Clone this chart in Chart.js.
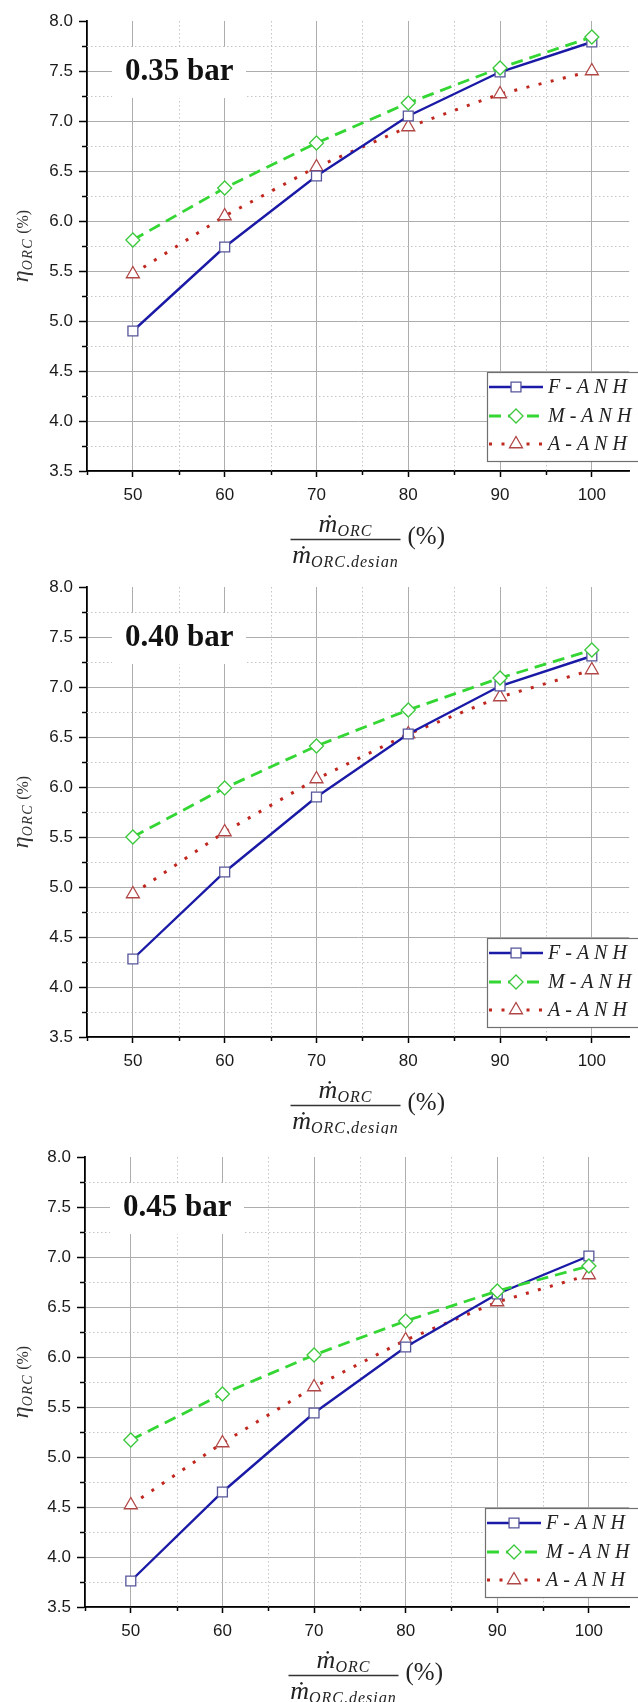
<!DOCTYPE html>
<html>
<head>
<meta charset="utf-8">
<script src="https://cdn.jsdelivr.net/npm/chart.js@4.4.1/dist/chart.umd.min.js"></script>
<style>
  html, body { margin:0; padding:0; background:#fff; }
  #wrap { position:relative; width:638px; height:1702px; overflow:hidden; }
  #wrap canvas { position:absolute; left:0; }
</style>
</head>
<body>
<div id="wrap">
  <canvas id="c1" width="638" height="567" style="top:0px"></canvas>
  <canvas id="c2" width="638" height="567" style="top:567px"></canvas>
  <canvas id="c3" width="638" height="568" style="top:1134px"></canvas>
</div>
<script>
// ===== DATA =====
const massFlow = [50, 60, 70, 80, 90, 100];
const xTicks = [50, 60, 70, 80, 90, 100];
const xMinorTicks = [45, 55, 65, 75, 85, 95];
const yTicks = [3.5, 4.0, 4.5, 5.0, 5.5, 6.0, 6.5, 7.0, 7.5, 8.0];
const yMinorTicks = [3.75, 4.25, 4.75, 5.25, 5.75, 6.25, 6.75, 7.25, 7.75];
const seriesNames = ['F-ANH', 'M-ANH', 'A-ANH'];
const pressureLabels = ['0.35 bar', '0.40 bar', '0.45 bar'];

// 0.35 bar
const fAnh35 = [4.90, 5.74, 6.45, 7.05, 7.49, 7.79];
const mAnh35 = [5.81, 6.33, 6.78, 7.18, 7.53, 7.84];
const aAnh35 = [5.47, 6.05, 6.54, 6.94, 7.27, 7.50];
// 0.40 bar
const fAnh40 = [4.28, 5.15, 5.90, 6.53, 7.01, 7.31];
const mAnh40 = [5.50, 5.99, 6.41, 6.77, 7.09, 7.37];
const aAnh40 = [4.93, 5.55, 6.08, 6.53, 6.90, 7.17];
// 0.45 bar
const fAnh45 = [3.76, 4.65, 5.44, 6.10, 6.63, 7.01];
const mAnh45 = [5.17, 5.63, 6.02, 6.36, 6.66, 6.91];
const aAnh45 = [4.52, 5.14, 5.70, 6.17, 6.55, 6.82];

// ===== STYLE =====
const seriesStyle = [
  { line:'#1a1aa6', marker:'#55559a', dash:[], width:2.4, point:'rect', radius:7, order:1 },
  { line:'#33d633', marker:'#3cc83c', dash:[12, 7], width:2.8, point:'rectRot', radius:7, order:0 },
  { line:'#c0281f', marker:'#b04646', dash:[3, 9.5], width:3, point:'triangle', radius:7.5, order:2 }
];

const SERIF = '"Liberation Serif", "DejaVu Serif", serif';
const SANS = '"Liberation Sans", Arial, sans-serif';

const panels = [
  { id:'c1', height:567, areaTop:21, axisLeft:87, xMax:104.07, label:pressureLabels[0], series:[fAnh35, mAnh35, aAnh35] },
  { id:'c2', height:567, areaTop:20, axisLeft:87, xMax:104.07, label:pressureLabels[1], series:[fAnh40, mAnh40, aAnh40] },
  { id:'c3', height:568, areaTop:23, axisLeft:85, xMax:104.4, label:pressureLabels[2], series:[fAnh45, mAnh45, aAnh45] }
];

// ===== HELPERS =====
function drawMarker(ctx, style, x, y, r){
  ctx.beginPath();
  if(style === 'rect'){
    const s = r * Math.SQRT1_2;
    ctx.rect(x - s, y - s, 2*s, 2*s);
  }else if(style === 'rectRot'){
    ctx.moveTo(x, y - r); ctx.lineTo(x + r, y); ctx.lineTo(x, y + r); ctx.lineTo(x - r, y);
    ctx.closePath();
  }else{
    ctx.moveTo(x, y - r);
    ctx.lineTo(x + r*0.866, y + r*0.5);
    ctx.lineTo(x - r*0.866, y + r*0.5);
    ctx.closePath();
  }
  ctx.fill();
  ctx.stroke();
}

// pieces: {t, font, dy, sp}
function richText(ctx, pieces, x, y, align){
  let total = 0;
  pieces.forEach(p => {
    ctx.font = p.font;
    ctx.letterSpacing = (p.sp || 0) + 'px';
    p.w = ctx.measureText(p.t).width;
    total += p.w;
  });
  let cx = align === 'center' ? x - total/2 : x;
  pieces.forEach(p => {
    ctx.font = p.font;
    ctx.letterSpacing = (p.sp || 0) + 'px';
    ctx.fillText(p.t, cx, y + (p.dy || 0));
    cx += p.w;
  });
  ctx.letterSpacing = '0px';
}

// ===== PLUGIN =====
const decorPlugin = {
  id:'decor',
  beforeDatasetsDraw(chart){
    const { ctx, chartArea:a, scales:{ x, y } } = chart;
    const label = chart.options.plugins.decor.label;
    ctx.save();

    // minor grid (dotted)
    ctx.strokeStyle = '#c4c4c4';
    ctx.lineWidth = 1;
    ctx.setLineDash([1.5, 2.5]);
    xMinorTicks.forEach(v => {
      if(v <= x.min) return;
      const px = Math.round(x.getPixelForValue(v)) + 0.5;
      ctx.beginPath(); ctx.moveTo(px, a.top); ctx.lineTo(px, a.bottom); ctx.stroke();
    });
    yMinorTicks.forEach(v => {
      const py = Math.round(y.getPixelForValue(v)) + 0.5;
      ctx.beginPath(); ctx.moveTo(a.left, py); ctx.lineTo(a.right, py); ctx.stroke();
    });
    ctx.setLineDash([]);

    // pressure label box
    const yb = y.getPixelForValue(7.5);
    ctx.fillStyle = '#fff';
    ctx.fillRect(a.left + 25, yb - 24, 134, 51);
    ctx.fillStyle = '#111';
    ctx.font = 'bold 31px ' + SERIF;
    ctx.textBaseline = 'middle';
    ctx.textAlign = 'left';
    ctx.fillText(label, a.left + 38, yb + 1);
    ctx.restore();
  },
  afterDraw(chart){
    const { ctx, chartArea:a, scales:{ x, y } } = chart;
    ctx.save();

    // minor ticks
    ctx.strokeStyle = '#000';
    ctx.lineWidth = 1.5;
    yMinorTicks.forEach(v => {
      const py = Math.round(y.getPixelForValue(v)) + 0.5;
      ctx.beginPath(); ctx.moveTo(a.left, py); ctx.lineTo(a.left - 5, py); ctx.stroke();
    });
    xMinorTicks.forEach(v => {
      const px = Math.round(x.getPixelForValue(v)) + 0.5;
      ctx.beginPath(); ctx.moveTo(px, a.bottom); ctx.lineTo(px, a.bottom + 4); ctx.stroke();
    });

    // legend
    const L = a.left + 400, T = a.bottom - 99, B = a.bottom - 10;
    ctx.fillStyle = '#fff';
    ctx.fillRect(L, T, 700, B - T);
    ctx.strokeStyle = '#707070';
    ctx.lineWidth = 1.2;
    ctx.strokeRect(L + 0.5, T + 0.5, 700, B - T);
    const rows = [a.bottom - 84, a.bottom - 55, a.bottom - 27];
    seriesNames.forEach((name, i) => {
      const s = seriesStyle[i];
      const ry = rows[i];
      ctx.strokeStyle = s.line;
      ctx.lineWidth = s.width;
      ctx.setLineDash(s.dash);
      ctx.beginPath(); ctx.moveTo(L + 2, ry); ctx.lineTo(L + 56, ry); ctx.stroke();
      ctx.setLineDash([]);
      ctx.fillStyle = '#fff';
      ctx.strokeStyle = s.marker;
      ctx.lineWidth = 1.3;
      drawMarker(ctx, s.point, L + 29, ry, s.radius);
      ctx.fillStyle = '#222';
      ctx.textBaseline = 'middle';
      ctx.textAlign = 'left';
      ctx.font = 'italic 20px ' + SERIF;
      ctx.letterSpacing = '5px';
      ctx.fillText(name, L + 61, ry + 1);
      ctx.letterSpacing = '0px';
    });

    // y title  eta_ORC (%)
    ctx.fillStyle = '#333';
    ctx.textAlign = 'left';
    ctx.textBaseline = 'alphabetic';
    ctx.save();
    ctx.translate(24, (a.top + a.bottom) / 2);
    ctx.rotate(-Math.PI / 2);
    richText(ctx, [
      { t:'η', font:'italic 24px ' + SERIF, dy:4 },
      { t:'ORC', font:'italic 14px ' + SERIF, dy:8, sp:1.5 },
      { t:' (%)', font:'16px ' + SERIF, dy:4 }
    ], 0, 0, 'center');
    ctx.restore();

    // x title  m_ORC / m_ORC,design (%)
    const cx = a.left + 258.5;
    ctx.fillStyle = '#222';
    richText(ctx, [
      { t:'ṁ', font:'italic 26px ' + SERIF },
      { t:'ORC', font:'italic 16px ' + SERIF, dy:4, sp:1 }
    ], cx, a.bottom + 61, 'center');
    ctx.strokeStyle = '#333';
    ctx.lineWidth = 1.3;
    ctx.beginPath(); ctx.moveTo(cx - 55, a.bottom + 68.5); ctx.lineTo(cx + 55, a.bottom + 68.5); ctx.stroke();
    richText(ctx, [
      { t:'ṁ', font:'italic 26px ' + SERIF },
      { t:'ORC,design', font:'italic 16px ' + SERIF, dy:4, sp:1 }
    ], cx, a.bottom + 92, 'center');
    ctx.font = '25px ' + SERIF;
    ctx.textBaseline = 'middle';
    ctx.fillText('(%)', cx + 62, a.bottom + 66);

    ctx.restore();
  }
};

// ===== CHARTS =====
panels.forEach(p => {
  const datasets = seriesNames.map((name, i) => {
    const s = seriesStyle[i];
    return {
      label: name,
      data: massFlow.map((m, k) => ({ x: m, y: p.series[i][k] })),
      borderColor: s.line,
      borderWidth: s.width,
      borderDash: s.dash,
      pointStyle: s.point,
      pointRadius: s.radius,
      pointBorderColor: s.marker,
      pointBackgroundColor: '#fff',
      pointBorderWidth: 1.3,
      tension: 0,
      order: s.order,
      clip: false
    };
  });

  new Chart(document.getElementById(p.id), {
    type:'line',
    data:{ datasets },
    plugins:[decorPlugin],
    options:{
      responsive:false,
      animation:false,
      devicePixelRatio:1,
      layout:{ padding:{ top:p.areaTop, left:0, right:0, bottom:0 } },
      plugins:{
        legend:{ display:false },
        tooltip:{ enabled:false },
        decor:{ label:p.label }
      },
      scales:{
        x:{
          type:'linear',
          min:45,
          max:p.xMax,
          afterBuildTicks: s => { s.ticks = xTicks.map(v => ({ value:v })); },
          afterFit: s => { s.height = p.height - p.areaTop - 450; },
          grid:{ color:'#adadad', lineWidth:1, tickLength:6, tickColor:'#000', tickWidth:1.5 },
          border:{ display:true, color:'#000', width:1.8 },
          ticks:{ font:{ family:SANS, size:17 }, color:'#1a1a1a', padding:8, maxRotation:0, autoSkip:false,
            callback: v => String(v) }
        },
        y:{
          type:'linear',
          min:3.5,
          max:8,
          afterBuildTicks: s => { s.ticks = yTicks.map(v => ({ value:v })); },
          afterFit: s => { s.width = p.axisLeft; },
          grid:{ color: c => (c.tick && c.tick.value >= 8) ? 'rgba(0,0,0,0)' : '#adadad',
            lineWidth:1, tickLength:8, tickColor:'#000', tickWidth:1.5 },
          border:{ display:true, color:'#000', width:1.8 },
          ticks:{ font:{ family:SANS, size:17 }, color:'#1a1a1a', padding:6, autoSkip:false,
            callback: v => Number(v).toFixed(1) }
        }
      }
    }
  });
});
</script>
</body>
</html>
